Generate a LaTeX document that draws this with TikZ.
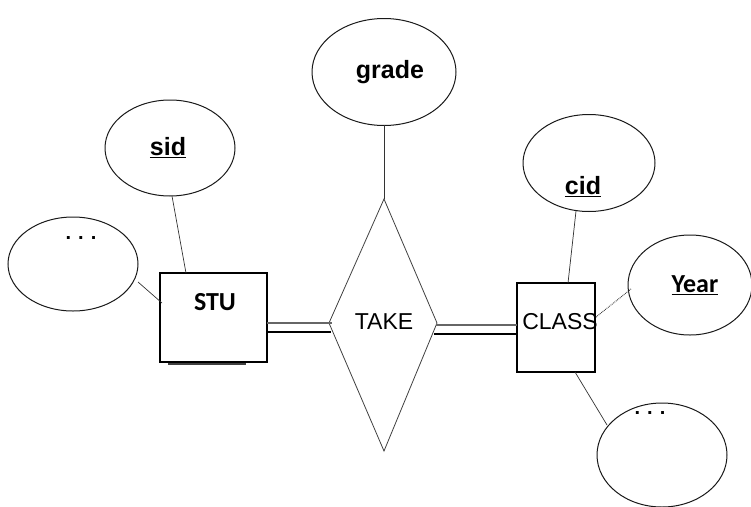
\documentclass[tikz,border=0pt]{standalone}
\usepackage{fontspec}
\setmainfont{Liberation Sans}
\newfontfamily\calib{Carlito}
\usetikzlibrary{shapes.geometric}
\begin{document}
\begin{tikzpicture}[x=1pt,y=-1pt,
  attr/.style={draw=black!90,line width=1pt,ellipse,inner sep=0pt},
  ent/.style={draw=black,line width=1.3pt,rectangle,inner sep=0pt},
  conn/.style={draw=black!80,line width=0.7pt},
  arial/.style={font=\fontsize{23}{27}\selectfont},
  arialb/.style={font=\fontsize{25}{29}\selectfont\bfseries},
  calb/.style={font=\calib\fontsize{26}{30}\selectfont\bfseries},
  dotsty/.style={font=\fontsize{20}{22}\selectfont\bfseries}]
\useasboundingbox (0,0) rectangle (751,506);
% attribute ellipses
\node[attr,minimum width=144pt,minimum height=107pt] (grade) at (384,72) {};
\node[attr,minimum width=130pt,minimum height=96pt] (sid) at (170,148) {};
\node[attr,minimum width=130pt,minimum height=94pt] (dots1) at (73,264) {};
\node[attr,minimum width=132pt,minimum height=97pt] (cid) at (589,163) {};
\node[attr,minimum width=124pt,minimum height=100pt] (year) at (690,285) {};
\node[attr,minimum width=130pt,minimum height=104pt] (dots2) at (662,455) {};
% entities
\node[ent,minimum width=107pt,minimum height=89pt] (stu) at (213.5,317.5) {};
\node[ent,minimum width=78pt,minimum height=89pt] (class) at (556,327.5) {};
\draw[line width=2.5pt,black!75] (168,364) -- (246,364);
% relationship diamond
\coordinate (dt) at (384,199);
\coordinate (db) at (384,451);
\coordinate (dl) at (329,323);
\coordinate (dr) at (437,323);
\draw[black!75,line width=0.8pt] (dt) -- (dr) -- (db) -- (dl) -- cycle;
% texts
\node[arialb] (tgrade) at (390,72) {grade};
\node[arialb] (tsid) at (168,148) {\underline{sid}};
\node[arialb] (tcid) at (583,187) {\underline{cid}};
\node[calb] (tyear) at (695,285) {\underline{Year}};
\node[calb] (tstu) at (215,302) {STU};
\node[arial] (ttake) at (384,322) {TAKE};
\node[arial] (tclass) at (560,322) {CLASS};
\node[dotsty] (d1) at (81,238) {.\hspace{7pt}.\hspace{7pt}.};
\node[dotsty] (d2) at (650,413) {.\hspace{7pt}.\hspace{7pt}.};
% connectors
\coordinate (g1) at (384,125);
\draw[conn] (g1) -- (dt);
\coordinate (s1) at (172,196);
\coordinate (s2) at (186,273);
\draw[conn] (s1) -- (s2);
\coordinate (l1) at (138,282);
\coordinate (l2) at (162,303);
\draw[conn] (l1) -- (l2);
\coordinate (c1) at (576,211);
\coordinate (c2) at (568,283);
\draw[conn] (c1) -- (c2);
\coordinate (y1) at (596,317);
\coordinate (y2) at (631,289);
\draw[conn,densely dotted,line width=1pt] (y1) -- (y2);
\coordinate (b1) at (575,372);
\coordinate (b2) at (607,425);
\draw[conn] (b1) -- (b2);
% double lines
\coordinate (sa) at (267,323);
\coordinate (sb) at (332,323);
\coordinate (sc) at (267,332);
\coordinate (sd) at (331,332);
\draw[black!60,line width=1.8pt] (sa) -- (sb);
\draw[black,line width=2.6pt] (sc) -- (sd);
\coordinate (ta) at (436,325);
\coordinate (tb) at (517,325);
\coordinate (tc) at (434,334);
\coordinate (td) at (517,334);
\draw[black!60,line width=1.8pt] (ta) -- (tb);
\draw[black,line width=2.6pt] (tc) -- (td);
\end{tikzpicture}
\end{document}
